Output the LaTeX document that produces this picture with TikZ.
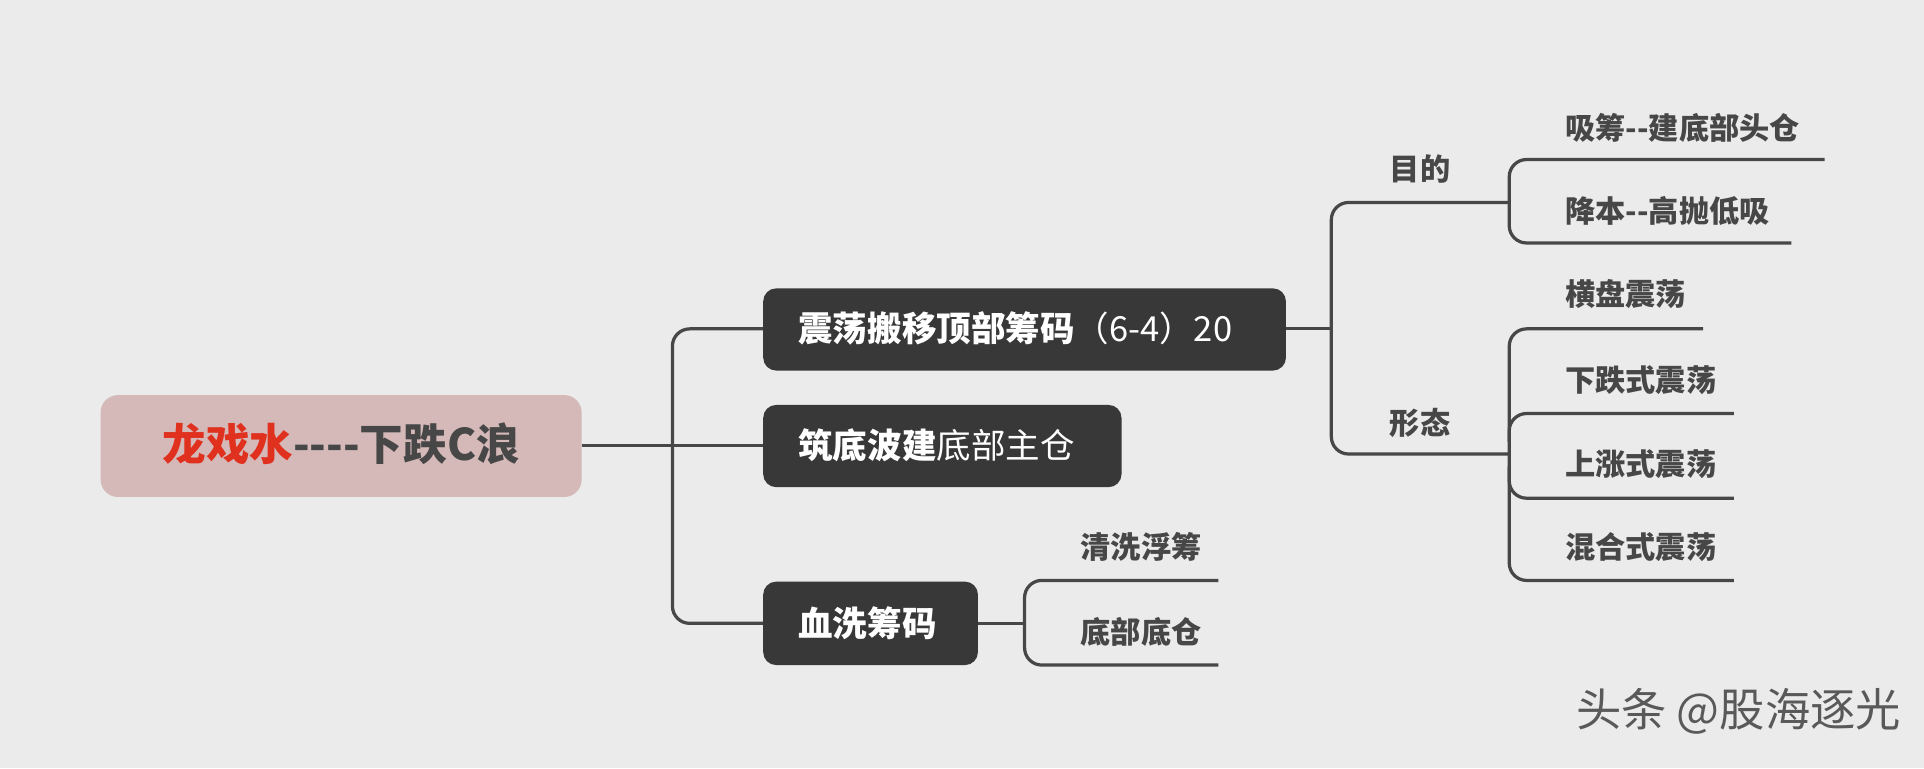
\documentclass[tikz,border=0pt]{standalone}
\usepackage{fontspec}
\setmainfont{Noto Sans CJK SC}[Ligatures=NoCommon]
\definecolor{rootfill}{HTML}{D5B8B8}
\newcommand{\dsh}{{-}}
\begin{document}
\begin{tikzpicture}[x=0.01cm,y=-0.01cm,
  ln/.style={draw=black!72,line width=0.75pt},
  rc/.style={ln,rounded corners=4pt},
  leaf/.style={text=black!72,font=\fontsize{7}{8}\selectfont\bfseries,anchor=west,inner sep=0pt}]
\fill[black!8] (0,0) rectangle (1568,626);
\useasboundingbox (0,0) rectangle (1568,626);
% root
\fill[rootfill,rounded corners=4pt] (82,322) rectangle (474,405);
\node[inner sep=0pt,font=\fontsize{10.1}{12}\selectfont\bfseries] (root) at (278,362) {\textcolor[HTML]{E0301E}{龙戏水}\textcolor{black!72}{\dsh\dsh\dsh\dsh 下跌C浪}};
\coordinate (rootE) at (474,363);
% level 1 boxes
\fill[black!78,rounded corners=3pt] (622,235) rectangle (1048,302);
\node[inner sep=0pt,text=white,font=\fontsize{8}{9}\selectfont,anchor=west] (A) at (650,268) {\textbf{震荡搬移顶部筹码}（6\dsh 4）20};
\coordinate (Aw) at (622,268); \coordinate (Ae) at (1048,268);
\fill[black!78,rounded corners=3pt] (622,330) rectangle (914,397);
\node[inner sep=0pt,text=white,font=\fontsize{8}{9}\selectfont,anchor=west] (B) at (650,363) {\textbf{筑底波建}底部主仓};
\coordinate (Bw) at (622,363);
\fill[black!78,rounded corners=3pt] (622,474) rectangle (797,542);
\node[inner sep=0pt,text=white,font=\fontsize{8}{9}\selectfont\bfseries,anchor=west] (C) at (650,508) {血洗筹码};
\coordinate (Cw) at (622,508); \coordinate (Ce) at (797,508);
\draw[ln] (rootE) -- (Bw);
\draw[rc] (Aw) -- (548,268) -- (548,508) -- (Cw);
% A branches
\node[leaf] (mu) at (1132,138) {目的};
\node[leaf] (xt) at (1132,345) {形态};
\coordinate (muR) at (1230,165); \coordinate (xtR) at (1230,370);
\draw[ln] (Ae) -- (1085,268);
\draw[rc] (muR) -- (1085,165) -- (1085,370) -- (xtR);
% mu leaves
\node[leaf] (m1) at (1275,104) {吸筹\dsh\dsh 建底部头仓};
\node[leaf] (m2) at (1275,172) {降本\dsh\dsh 高抛低吸};
\draw[rc] (1487,130) -- (1230,130) -- (1230,198) -- (1460,198);
% xt leaves
\node[leaf] (x1) at (1275,240) {横盘震荡};
\node[leaf] (x2) at (1275,310) {下跌式震荡};
\node[leaf] (x3) at (1275,378) {上涨式震荡};
\node[leaf] (x4) at (1275,446) {混合式震荡};
\draw[rc] (1388,268) -- (1230,268) -- (1230,473) -- (1413,473);
\draw[rc] (1413,337) -- (1230,337) -- (1230,360);
\draw[rc] (1413,406) -- (1230,406) -- (1230,380);
% C leaves
\node[leaf] (c1) at (880,446) {清洗浮筹};
\node[leaf] (c2) at (880,515) {底部底仓};
\draw[ln] (Ce) -- (835,508);
\draw[rc] (993,473) -- (835,473) -- (835,542) -- (993,542);
% watermark
\node[anchor=east,inner sep=0pt,text=black!65,font=\fontsize{10.5}{12}\selectfont] (wm) at (1550,580) {头条 @股海逐光};
\end{tikzpicture}
\end{document}
